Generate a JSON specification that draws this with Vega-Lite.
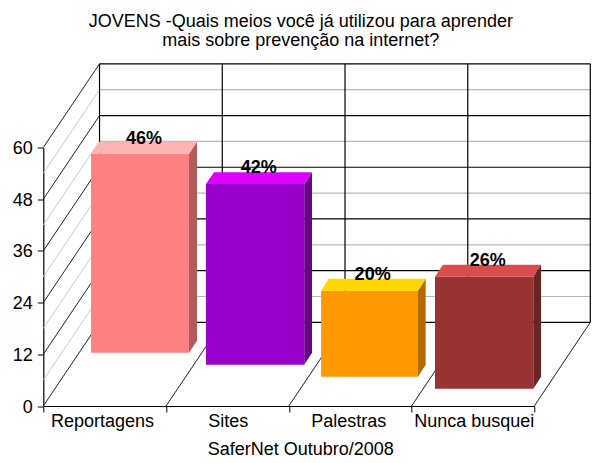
{
"$schema":"https://vega.github.io/schema/vega-lite/v6.json",
"autosize":{"type":"none"},
"width":491,"height":258.5,
"padding":{"left":43.3,"top":147.5,"right":65.7,"bottom":57},
"background":"white",
"config":{"view":{"stroke":null},"font":"Liberation Sans"},
"title":{"text":["JOVENS -Quais meios você já utilizou para aprender","mais sobre prevenção na internet?"],"anchor":"middle","dx":12,"offset":13,"fontSize":18,"fontWeight":"normal","lineHeight":19.5,"color":"#000","font":"Liberation Sans"},
"datasets":{
"grid":[
{"line":"back","x":0.458,"x2":4.456,"y":19.42,"y2":19.42},
{"line":"back","x":0.458,"x2":4.456,"y":31.42,"y2":31.42},
{"line":"back","x":0.458,"x2":4.456,"y":43.42,"y2":43.42},
{"line":"back","x":0.458,"x2":4.456,"y":55.42,"y2":55.42},
{"line":"back","x":0.458,"x2":4.456,"y":67.42,"y2":67.42},
{"line":"back","x":0.458,"x2":4.456,"y":79.42,"y2":79.42},
{"line":"back","x":0.458,"x2":0.458,"y":19.42,"y2":79.42},
{"line":"back","x":1.458,"x2":1.458,"y":19.42,"y2":79.42},
{"line":"back","x":2.458,"x2":2.458,"y":19.42,"y2":79.42},
{"line":"back","x":3.458,"x2":3.458,"y":19.42,"y2":79.42},
{"line":"back","x":4.456,"x2":4.456,"y":19.42,"y2":79.42},
{"line":"minor","x":0.458,"x2":4.456,"y":25.42,"y2":25.42},
{"line":"minor","x":0.458,"x2":4.456,"y":37.42,"y2":37.42},
{"line":"minor","x":0.458,"x2":4.456,"y":49.42,"y2":49.42},
{"line":"minor","x":0.458,"x2":4.456,"y":61.42,"y2":61.42},
{"line":"minor","x":0.458,"x2":4.456,"y":73.42,"y2":73.42},
{"line":"wallminor","x":0,"x2":0.458,"y":6,"y2":25.42},
{"line":"wallminor","x":0,"x2":0.458,"y":18,"y2":37.42},
{"line":"wallminor","x":0,"x2":0.458,"y":30,"y2":49.42},
{"line":"wallminor","x":0,"x2":0.458,"y":42,"y2":61.42},
{"line":"wallminor","x":0,"x2":0.458,"y":54,"y2":73.42},
{"line":"wall","x":0,"x2":0.458,"y":0,"y2":19.42},
{"line":"wall","x":0,"x2":0.458,"y":12,"y2":31.42},
{"line":"wall","x":0,"x2":0.458,"y":24,"y2":43.42},
{"line":"wall","x":0,"x2":0.458,"y":36,"y2":55.42},
{"line":"wall","x":0,"x2":0.458,"y":48,"y2":67.42},
{"line":"wall","x":0,"x2":0.458,"y":60,"y2":79.42},
{"line":"wall","x":1,"x2":1.458,"y":0,"y2":19.42},
{"line":"wall","x":2,"x2":2.458,"y":0,"y2":19.42},
{"line":"wall","x":3,"x2":3.458,"y":0,"y2":19.42},
{"line":"wall","x":4,"x2":4.456,"y":0,"y2":19.42}
],
"bars":[
{"cat":"Reportagens","part":"Reportagens front","x":0.389,"x2":1.187,"base":12.37,"top":58.54},
{"cat":"Sites","part":"Sites front","x":1.325,"x2":2.126,"base":9.58,"top":51.5},
{"cat":"Palestras","part":"Palestras front","x":2.263,"x2":3.052,"base":6.8,"top":26.75},
{"cat":"Nunca busquei","part":"Nunca busquei front","x":3.191,"x2":3.992,"base":4.01,"top":30.0}
],
"sides":[
{"part":"Reportagens side","x":1.187,"top":58.54,"base":12.37},
{"part":"Reportagens side","x":1.252,"top":61.32,"base":15.15},
{"part":"Sites side","x":2.126,"top":51.5,"base":9.58},
{"part":"Sites side","x":2.189,"top":54.28,"base":12.36},
{"part":"Palestras side","x":3.052,"top":26.75,"base":6.8},
{"part":"Palestras side","x":3.115,"top":29.53,"base":9.58},
{"part":"Nunca busquei side","x":3.992,"top":30.0,"base":4.01},
{"part":"Nunca busquei side","x":4.055,"top":32.78,"base":6.79}
],
"tops":[
{"part":"Reportagens top","x":0.389,"x2":1.187,"y":58.54},
{"part":"Reportagens top","x":0.454,"x2":1.252,"y":61.32},
{"part":"Sites top","x":1.325,"x2":2.126,"y":51.5},
{"part":"Sites top","x":1.391,"x2":2.189,"y":54.28},
{"part":"Palestras top","x":2.263,"x2":3.052,"y":26.75},
{"part":"Palestras top","x":2.326,"x2":3.115,"y":29.53},
{"part":"Nunca busquei top","x":3.191,"x2":3.992,"y":30.0},
{"part":"Nunca busquei top","x":3.256,"x2":4.055,"y":32.78}
],
"labels":[
{"label":"46%","x":0.82,"y":62.0},
{"label":"42%","x":1.755,"y":55.2},
{"label":"20%","x":2.683,"y":30.3},
{"label":"26%","x":3.62,"y":33.6}
]
},
"layer":[
{"data":{"name":"grid"},"transform":[{"filter":"datum.line=='minor'"}],
 "mark":{"type":"rule","strokeWidth":1.2,"color":"#b8b8b8"},
 "encoding":{
  "x":{"field":"x","type":"quantitative","scale":{"domain":[0,4],"nice":false,"zero":false},
   "axis":{"values":[0,0.478,1,1.503,2,2.485,3,3.507,4],
    "labelExpr":"datum.value==0.478?'Reportagens':datum.value==1.503?'Sites':datum.value==2.485?'Palestras':datum.value==3.507?'Nunca busquei':''",
    "labelFontSize":18,"labelColor":"#000","labelPadding":0,"labelOverlap":false,"labelFlush":false,"labelBound":false,"labelAngle":0,
    "tickSize":6,"tickColor":"#000","tickOpacity":{"condition":{"test":"datum.value%1!==0","value":0},"value":1},
    "domainColor":"#000","domainWidth":1.2,"grid":false,
    "title":"SaferNet Outubro/2008","titleFontSize":18,"titleFontWeight":"normal","titleColor":"#000","titleX":257,"titleY":43,"titleBaseline":"middle"}},
  "x2":{"field":"x2"},
  "y":{"field":"y","type":"quantitative","scale":{"domain":[0,60],"nice":false},
   "axis":{"values":[0,12,24,36,48,60],"labelFontSize":18,"labelColor":"#000","labelPadding":5,"labelOffset":1,"tickSize":6,"tickColor":"#000","domainColor":"#000","domainWidth":1.2,"grid":false,"title":null}},
  "y2":{"field":"y2"}
 }},
{"data":{"name":"grid"},"transform":[{"filter":"datum.line=='wallminor'"}],
 "mark":{"type":"rule","strokeWidth":1,"color":"#cccccc"},
 "encoding":{"x":{"field":"x","type":"quantitative"},"x2":{"field":"x2"},"y":{"field":"y","type":"quantitative"},"y2":{"field":"y2"}}},
{"data":{"name":"grid"},"transform":[{"filter":"datum.line=='back'"}],
 "mark":{"type":"rule","strokeWidth":1.2,"color":"#000"},
 "encoding":{"x":{"field":"x","type":"quantitative"},"x2":{"field":"x2"},"y":{"field":"y","type":"quantitative"},"y2":{"field":"y2"}}},
{"data":{"name":"grid"},"transform":[{"filter":"datum.line=='wall'"}],
 "mark":{"type":"rule","strokeWidth":1,"color":"#222"},
 "encoding":{"x":{"field":"x","type":"quantitative"},"x2":{"field":"x2"},"y":{"field":"y","type":"quantitative"},"y2":{"field":"y2"}}},
{"data":{"name":"bars"},"mark":{"type":"rect"},
 "encoding":{"x":{"field":"x","type":"quantitative"},"x2":{"field":"x2"},"y":{"field":"base","type":"quantitative"},"y2":{"field":"top"},
  "color":{"field":"part","type":"nominal","legend":null,"scale":{"domain":["Reportagens front","Sites front","Palestras front","Nunca busquei front","Reportagens side","Sites side","Palestras side","Nunca busquei side","Reportagens top","Sites top","Palestras top","Nunca busquei top"],"range":["#FF8080","#9900CC","#FF9900","#993333","#B35A5A","#6B008F","#B36B00","#6B2424","#FFB3B3","#DD00FF","#FFD700","#D94D4D"]}}}},
{"data":{"name":"sides"},"mark":{"type":"area","interpolate":"linear"},
 "encoding":{"x":{"field":"x","type":"quantitative"},"y":{"field":"top","type":"quantitative"},"y2":{"field":"base"},
  "color":{"field":"part","type":"nominal","legend":null}}},
{"data":{"name":"tops"},"mark":{"type":"area","orient":"horizontal","interpolate":"linear"},
 "encoding":{"y":{"field":"y","type":"quantitative"},"x":{"field":"x","type":"quantitative"},"x2":{"field":"x2"},
  "color":{"field":"part","type":"nominal","legend":null}}},
{"data":{"name":"labels"},"mark":{"type":"text","fontSize":18,"fontWeight":"bold","color":"#000","baseline":"middle","align":"center"},
 "encoding":{"x":{"field":"x","type":"quantitative"},"y":{"field":"y","type":"quantitative"},"text":{"field":"label"}}}
]
}
